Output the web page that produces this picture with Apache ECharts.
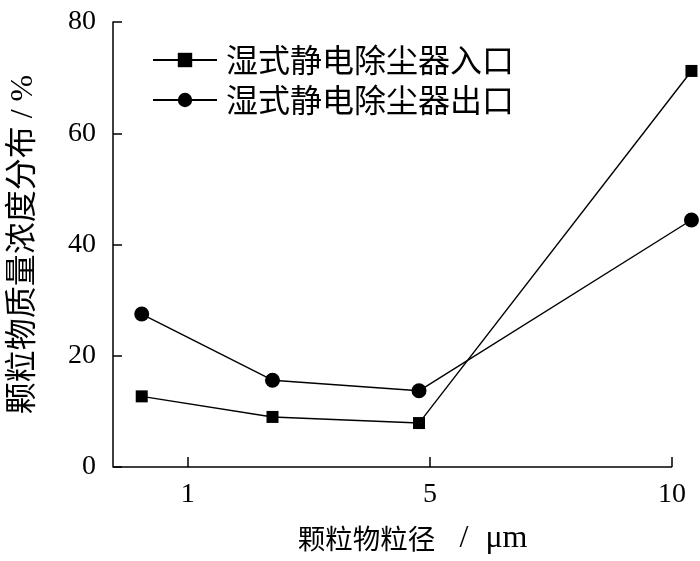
<!DOCTYPE html>
<html>
<head>
<meta charset="utf-8">
<script src="https://cdn.jsdelivr.net/npm/echarts@6/dist/echarts.min.js"></script>
<style>html,body{margin:0;padding:0;background:#fff}#c{width:700px;height:561px}</style>
</head>
<body>
<div id="c"></div>
<script>
// Tick labels of the particle-size axis (evenly spaced on the original figure)
var xTickLabels = ['1', '5', '10'];
var xTickPos = [0, 1, 2];
var xPos = [-0.19, 0.35, 0.955, 2.08];
var inletValues = [12.7, 9.0, 7.9, 71.2];
var outletValues = [27.5, 15.6, 13.7, 44.4];
var seriesNames = ['湿式静电除尘器入口', '湿式静电除尘器出口'];
var xNameCjk = '颗粒物粒径 ';
var xNameSlash = '/ ';
var xNameUnit = 'μm';
var yName = '颗粒物质量浓度分布 / %';

var xMin = -0.3086, xAxisEnd = 2, xMax = 2.1;

function pairs(xs, ys) { return xs.map(function (x, i) { return [x, ys[i]]; }); }

var serif = 'Liberation Serif, Noto Sans CJK SC, serif';
var cjk = 'Noto Sans CJK SC, sans-serif';

var chart = echarts.init(document.getElementById('c'), null, {renderer: 'canvas'});
chart.setOption({
  animation: false,
  backgroundColor: '#fff',
  grid: {left: 110, right: 3.7, top: 22, bottom: 94, containLabel: false},
  legend: {
    orient: 'vertical', left: 147, top: 39,
    itemWidth: 64, itemHeight: 18, itemGap: 8,
    textStyle: {fontFamily: cjk, fontSize: 32, color: '#000', lineHeight: 32, padding: [0, 0, 0, 4]},
    data: seriesNames
  },
  xAxis: {
    type: 'value', min: xMin, max: xMax,
    name: '{a|' + xNameCjk + '}{b|' + xNameSlash + '}{c|' + xNameUnit + '}', nameLocation: 'middle', nameGap: 56,
    nameTextStyle: {color: '#000', padding: [0, 0, 0, 16],
      rich: {
        a: {fontFamily: cjk, fontSize: 27.5, color: '#000'},
        b: {fontFamily: serif, fontSize: 32, color: '#000', padding: [0, 0, 0, 18]},
        c: {fontFamily: serif, fontSize: 32, color: '#000', padding: [0, 0, 0, 9]}
      }},
    axisLine: {show: false},
    axisTick: {show: true, inside: true, length: 10, customValues: xTickPos, lineStyle: {color: '#000', width: 1.5}},
    axisLabel: {show: true, customValues: xTickPos, margin: 14, fontFamily: serif, fontSize: 28, color: '#000',
      formatter: function (v) { var i = xTickPos.indexOf(Math.round(v)); return i >= 0 ? xTickLabels[i] : ''; }},
    splitLine: {show: false}
  },
  yAxis: {
    type: 'value', min: 0, max: 80, interval: 20,
    name: yName, nameLocation: 'middle', nameGap: 73,
    nameTextStyle: {fontFamily: serif, fontSize: 32, color: '#000'},
    axisLine: {show: true, onZero: false, lineStyle: {color: '#000', width: 1.5}},
    axisTick: {show: true, inside: true, length: 9, lineStyle: {color: '#000', width: 1.5}},
    axisLabel: {margin: 17, fontFamily: serif, fontSize: 28, color: '#000'},
    splitLine: {show: false}
  },
  series: [
    {
      name: seriesNames[0], type: 'line', clip: false,
      symbol: 'rect', symbolSize: 12,
      itemStyle: {color: '#000'}, lineStyle: {color: '#000', width: 1.4},
      data: pairs(xPos, inletValues),
      markLine: {
        silent: true, symbol: ['none', 'none'], label: {show: false},
        lineStyle: {color: '#000', width: 1.5, type: 'solid'},
        data: [[{coord: [xMin, 0]}, {coord: [xAxisEnd, 0]}]]
      }
    },
    {
      name: seriesNames[1], type: 'line', clip: false,
      symbol: 'circle', symbolSize: 15,
      itemStyle: {color: '#000'}, lineStyle: {color: '#000', width: 1.4},
      data: pairs(xPos, outletValues)
    }
  ]
});
</script>
</body>
</html>
